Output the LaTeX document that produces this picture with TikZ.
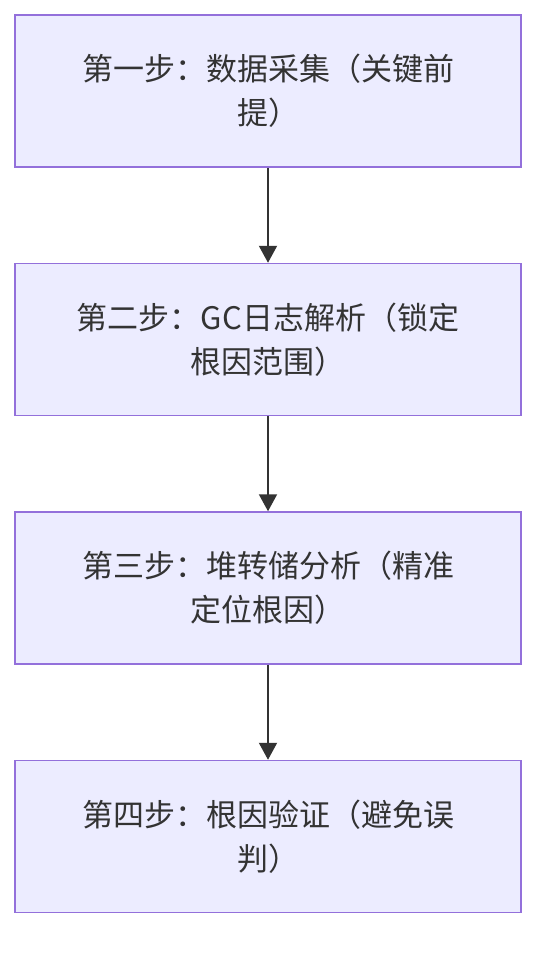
\documentclass[tikz,border=0pt]{standalone}
\usepackage{fontspec}
\setmainfont{Noto Sans CJK SC}
\usepackage{tikz}
\usetikzlibrary{arrows.meta,shapes,positioning}
\usepackage{xcolor}
\definecolor{mmfill}{HTML}{ECECFF}
\definecolor{mmborder}{HTML}{9370DB}
\definecolor{mmtext}{HTML}{333333}
\tikzstyle{stepbox} = [draw=mmborder, fill=mmfill, line width=1.5pt, minimum width=506pt, minimum height=152pt, align=center, text=mmtext, font=\fontsize{31pt}{44pt}\selectfont]
\tikzstyle{arrow} = [line width=2pt,-{Triangle[length=17pt,width=18pt]},color=mmtext]

\begin{document}
\begin{tikzpicture}[x=1pt, y=-1pt, node distance=95pt]
\useasboundingbox (0,0) rectangle (552,956);
% Steps
\node[stepbox] (s1) at (268,91) {第一步：数据采集（关键前\\提）};
\node[stepbox, below=of s1] (s2) {第二步：GC日志解析（锁定\\根因范围）};
\node[stepbox, below=of s2] (s3) {第三步：堆转储分析（精准\\定位根因）};
\node[stepbox, below=of s3] (s4) {第四步：根因验证（避免误\\判）};

% Arrows
\draw[arrow] (s1) -- (s2);
\draw[arrow] (s2) -- (s3);
\draw[arrow] (s3) -- (s4);
\end{tikzpicture}
\end{document}
